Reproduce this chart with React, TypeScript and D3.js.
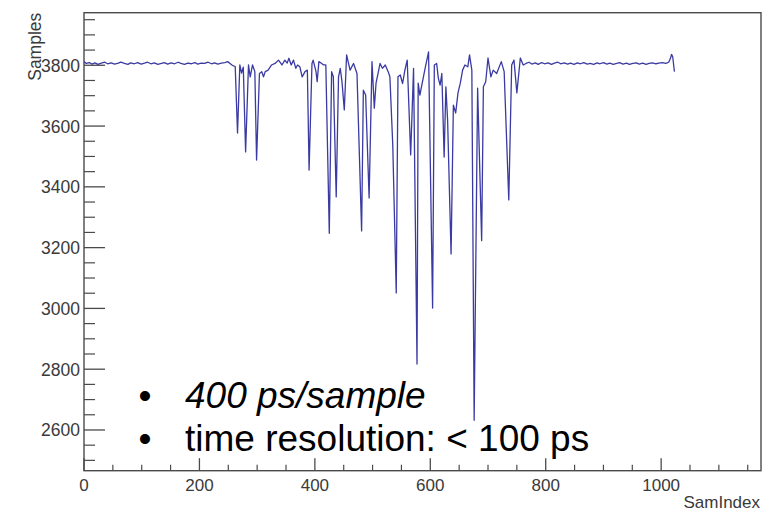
import React from "react";
import * as d3 from "d3";

const sampleIndex: number[] = [
  0, 4, 9, 14, 19, 24, 30, 36, 41, 47, 53, 58, 64, 70, 76, 81, 87, 93, 99, 105, 110, 116, 122, 128, 134, 139, 145, 151, 157, 163, 168, 174, 180, 186, 192, 197, 203, 209, 215, 221, 226, 232, 238, 244, 249, 253, 257, 259,
  262, 266, 270, 273, 276, 280, 285, 288, 292, 296, 299, 304, 308, 311, 314, 319, 325, 331, 337, 343, 348, 352, 355, 359, 363, 367, 370, 374, 378, 383, 387, 390, 395, 397, 402, 404, 407, 412, 415, 419,
  425, 429, 432, 437, 441, 444, 447, 451, 455, 461, 467, 473, 481, 484, 488, 494, 499, 503, 506, 513, 517, 522, 527, 530, 535, 541, 544, 548, 552, 556, 560, 566, 571, 577, 579, 582, 586, 591, 597,
  604, 607, 611, 614, 617, 620, 624, 627, 630, 636, 640, 644, 648, 652, 656, 660, 665, 668, 672, 676, 682, 689, 692, 696, 700, 705, 709, 715, 723, 728, 736, 741, 745, 750, 756, 761,
  766, 771, 776, 782, 787, 793, 798, 804, 810, 815, 821, 826, 832, 838, 843, 849, 855, 860, 866, 872, 877, 883, 889, 894, 900, 906, 911, 917, 923, 928, 934, 940, 945, 951, 957, 962, 968, 974, 979, 985, 991, 996, 1002, 1008, 1013, 1016, 1018, 1020, 1023,
];

const sampleValue: number[] = [
  3812, 3806, 3809, 3804, 3808, 3803, 3807, 3810, 3805, 3808, 3804, 3806, 3810, 3806, 3803, 3808, 3805, 3809, 3804, 3807, 3810, 3805, 3808, 3803, 3806, 3809, 3804, 3808, 3805, 3810, 3806, 3803, 3807, 3805, 3809, 3804, 3807, 3806, 3810, 3805, 3808, 3804, 3807, 3809, 3812, 3806, 3800, 3798,
  3796, 3577, 3801, 3774, 3794, 3515, 3801, 3762, 3801, 3779, 3488, 3773, 3779, 3762, 3779, 3784, 3801, 3806, 3817, 3801, 3817, 3807, 3823, 3801, 3817, 3790, 3801, 3795, 3762, 3779, 3784, 3455, 3806, 3817, 3779, 3746, 3812, 3806, 3801, 3801,
  3247, 3779, 3762, 3367, 3762, 3790, 3746, 3653, 3834, 3784, 3806, 3773, 3255, 3718, 3702, 3363, 3812, 3659, 3741, 3806, 3790, 3801, 3779, 3762, 3537, 3051, 3762, 3768, 3740, 3784, 3817, 3505, 3790, 2817, 3741, 3702, 3741, 3790, 3844,
  3001, 3801, 3806, 3757, 3735, 3773, 3498, 3729, 3620, 3179, 3669, 3643, 3709, 3741, 3784, 3801, 3795, 3834, 3784, 2632, 3725, 3223, 3729, 3746, 3824, 3762, 3784, 3773, 3812, 3779, 3357, 3801, 3817, 3709, 3824, 3801,
  3806, 3810, 3804, 3808, 3803, 3809, 3805, 3808, 3803, 3807, 3810, 3805, 3808, 3804, 3807, 3803, 3808, 3805, 3809, 3804, 3806, 3803, 3808, 3805, 3809, 3804, 3807, 3803, 3806, 3809, 3804, 3807, 3803, 3806, 3808, 3804, 3807, 3803, 3806, 3808, 3805, 3807, 3809, 3806, 3810, 3822, 3836, 3828, 3779,
];

const xMajorTicks: number[] = [0, 200, 400, 600, 800, 1000];
const yMajorTicks: number[] = [2600, 2800, 3000, 3200, 3400, 3600, 3800];
const xTitle = "SamIndex";
const yTitle = "Samples";
const notes: { text: string; italic: boolean }[] = [
  { text: "400 ps/sample", italic: true },
  { text: "time resolution: < 100 ps", italic: false },
];

export default function App() {
  const W = 780;
  const H = 513;
  const left = 84;
  const right = 761;
  const top = 12.7;
  const bottom = 470.7;

  const x = d3.scaleLinear().domain([0, 1173]).range([left, right]);
  const y = d3.scaleLinear().domain([2466, 3973]).range([bottom, top]);

  const pts: [number, number][] = sampleIndex.map((d, i) => [d, sampleValue[i]]);
  const line = d3
    .line<[number, number]>()
    .x((d) => x(d[0]))
    .y((d) => y(d[1]));

  const xMinor = d3.range(0, 1173, 50).filter((v) => v % 200 !== 0);
  const yMinor = d3.range(2500, 3973, 50).filter((v) => v % 200 !== 0);
  const axisColor = "#4a4a4a";
  const font = "'Liberation Sans', Arial, Helvetica, sans-serif";

  return (
    <svg
      width={W}
      height={H}
      style={{ position: "absolute", left: 0, top: 0, background: "#fff" }}
      fontFamily={font}
    >
      <rect x={0} y={0} width={W} height={H} fill="#fff" />
      {/* frame */}
      <rect
        x={left}
        y={top}
        width={right - left}
        height={bottom - top}
        fill="none"
        stroke={axisColor}
        strokeWidth={1.4}
      />
      {/* y ticks */}
      {yMajorTicks.map((v) => (
        <g key={"ym" + v}>
          <line x1={left} x2={left + 21} y1={y(v)} y2={y(v)} stroke={axisColor} strokeWidth={1.3} />
          <text x={80} y={y(v) + 6.5} textAnchor="end" fontSize={17.5} fill="#3a3a3a">
            {v}
          </text>
        </g>
      ))}
      {yMinor.map((v) => (
        <line key={"yn" + v} x1={left} x2={left + 11} y1={y(v)} y2={y(v)} stroke={axisColor} strokeWidth={1.2} />
      ))}
      {/* x ticks */}
      {xMajorTicks.map((v) => (
        <g key={"xm" + v}>
          <line x1={x(v)} x2={x(v)} y1={bottom} y2={bottom - 12.5} stroke={axisColor} strokeWidth={1.3} />
          <text x={x(v)} y={491} textAnchor="middle" fontSize={17} fill="#3a3a3a">
            {v}
          </text>
        </g>
      ))}
      {xMinor.map((v) => (
        <line key={"xn" + v} x1={x(v)} x2={x(v)} y1={bottom} y2={bottom - 6} stroke={axisColor} strokeWidth={1.2} />
      ))}
      {/* axis titles */}
      <text
        transform={`translate(41, ${top}) rotate(-90)`}
        textAnchor="end"
        fontSize={17.5}
        fill="#3a3a3a"
      >
        {yTitle}
      </text>
      <text x={760} y={508} textAnchor="end" fontSize={17} fill="#3a3a3a">
        {xTitle}
      </text>
      {/* waveform */}
      <path
        d={line(pts) || ""}
        fill="none"
        stroke="#3a3aa2"
        strokeWidth={1.3}
        strokeLinejoin="round"
      />
      {/* notes */}
      {notes.map((n, i) => (
        <g key={"note" + i}>
          <text x={145} y={408 + i * 43} textAnchor="middle" fontSize={37} fill="#000">
            •
          </text>
          <text
            x={185}
            y={408 + i * 43}
            fontSize={37}
            fill="#000"
            fontStyle={n.italic ? "italic" : "normal"}
          >
            {n.text}
          </text>
        </g>
      ))}
    </svg>
  );
}
